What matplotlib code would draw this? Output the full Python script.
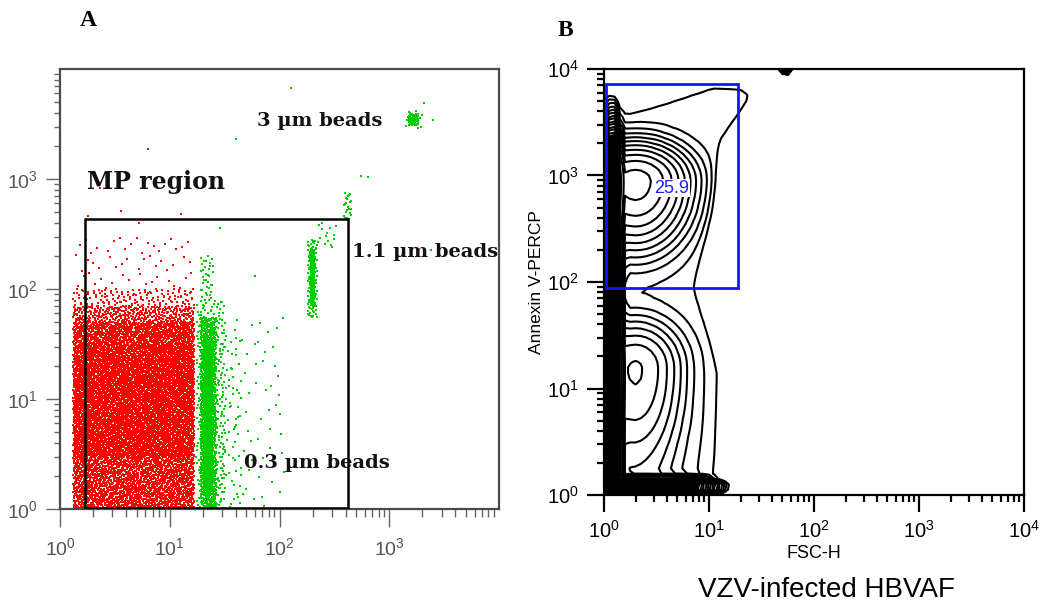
import numpy as np
import matplotlib
matplotlib.use("Agg")
import matplotlib.pyplot as plt
from matplotlib.patches import Rectangle
from matplotlib.ticker import LogLocator, LogFormatterSciNotation, NullFormatter

plt.rcParams['font.family'] = ['Liberation Sans', 'DejaVu Sans']
plt.rcParams['mathtext.fontset'] = 'custom'
plt.rcParams['mathtext.rm'] = 'Liberation Sans'

# ---------------------------------------------------------------
# Panel A data: dot clouds (x range, y range, number of events)
# ---------------------------------------------------------------
red_x = [(1.32, 16.7)] * 6
red_y = [(1.0, 3.0), (3.0, 30.0), (30.0, 50.0), (50.0, 70.0), (70.0, 100.0), (100.0, 300.0)]
red_n = [1900, 5400, 1000, 330, 140, 55]
red_out_x = [6.4, 3.6, 12.7, 2.3, 5.3, 1.8]
red_out_y = [1870, 510, 480, 830, 400, 460]

green_x = [(20.5, 24.5), (19.0, 26.5), (17.5, 32.0), (25.0, 45.0), (19.0, 25.0), (35.0, 110.0),
           (192.0, 208.0), (180.0, 220.0), (220.0, 330.0), (380.0, 450.0),
           (1500.0, 1850.0), (1400.0, 2000.0)]
green_y = [(1.5, 35.0), (1.0, 55.0), (1.0, 80.0), (1.0, 40.0), (80.0, 200.0), (1.0, 60.0),
           (70.0, 230.0), (55.0, 280.0), (230.0, 420.0), (420.0, 750.0),
           (3100.0, 3900.0), (2800.0, 4200.0)]
green_n = [1000, 900, 350, 80, 35, 60, 250, 110, 15, 22, 55, 15]
green_out_x = [126, 40, 550, 640, 2090, 2500, 29, 2400, 60]
green_out_y = [6700, 2300, 1070, 1050, 4900, 3450, 357, 225, 130]

mp_box = (1.7, 1.03, 420, 435)

# ---------------------------------------------------------------
# Panel B data: density in log10 units (u = log FSC-H, v = log Annexin)
# ---------------------------------------------------------------
# outline of the outermost contour (right side and top side)
outer_right_v = [0.0, 0.39, 1.14, 1.95, 3.02, 3.33, 3.76]
outer_right_u = [1.0, 1.03, 1.06, 0.85, 0.98, 1.10, 1.41]
outer_top_u = [0.0, 0.22, 1.04, 1.32, 1.45]
outer_top_v = [3.71, 3.55, 3.82, 3.81, 3.76]

# peaks: upper (Annexin+), lower (Annexin-), small event at the top
blob_u = [0.30, 0.30, 1.73]
blob_v = [2.95, 1.2, 4.0]
blob_su = [0.24, 0.22, 0.025]
blob_sv_top = [0.17, 0.22, 0.025]
blob_sv_bot = [0.30, 0.42, 0.025]
blob_amp = [34.0, 12.5, 6.0]

# pile-ups on the axes and the low band under the lower peak
strip_u = [(0.04, 0.12), (-0.3, 0.80), (-0.3, 0.55)]
strip_v = [(-0.3, 3.25), (0.04, 0.12), (-0.3, 0.9)]
strip_eu = [0.01, 0.05, 0.12]
strip_ev = [0.06, 0.01, 0.15]
strip_amp = [1000.0, 1000.0, 2.5]

gate = (1.04, 88, 19, 7200)
gate_label = "25.9"


def halton(n, base, start):
    i = np.arange(start + 1, start + n + 1)
    r = np.zeros(n)
    f = 1.0
    while (i > 0).any():
        f = f / base
        r = r + f * (i % base)
        i = i // base
    return r


def cloud(xr, yr, ns, start):
    xs, ys = [], []
    for (x0, x1), (y0, y1), n in zip(xr, yr, ns):
        h1 = halton(n, 2, start)
        h2 = halton(n, 3, start)
        start += n
        xs.append(10 ** (np.log10(x0) + h1 * (np.log10(x1) - np.log10(x0))))
        ys.append(10 ** (np.log10(y0) + h2 * (np.log10(y1) - np.log10(y0))))
    return np.concatenate(xs), np.concatenate(ys), start


def sig(t, e):
    return 1 / (1 + np.exp(-t / e))


def sbox(t, lo, hi, e):
    return sig(t - lo, e) * sig(hi - t, e)


def log_axes(ax, labels):
    ax.set_xscale('log')
    ax.set_yscale('log')
    ax.set_xlim(1, 1e4)
    ax.set_ylim(1, 1e4)
    ax.set_xticks(labels)
    ax.set_yticks(labels)
    for a in (ax.xaxis, ax.yaxis):
        a.set_major_formatter(LogFormatterSciNotation())
        a.set_minor_locator(LogLocator(base=10, subs=np.arange(2, 10), numticks=20))
        a.set_minor_formatter(NullFormatter())


fig = plt.figure(figsize=(10.6, 6.05), dpi=100)

# ---------------- Panel A ----------------
axA = fig.add_axes([60 / 1060, 96 / 605, 439 / 1060, 440 / 605])
rx, ry, k = cloud(red_x, red_y, red_n, 0)
gx, gy, k = cloud(green_x, green_y, green_n, k)
dot = dict(s=2.2, marker='s', linewidths=0)
axA.scatter(rx, ry, c='#ff0000', **dot)
axA.scatter(red_out_x, red_out_y, c='#ff0000', **dot)
axA.scatter(gx, gy, c='#00cc00', **dot)
axA.scatter(green_out_x, green_out_y, c='#00cc00', **dot)
axA.add_patch(Rectangle((mp_box[0], mp_box[1]), mp_box[2] - mp_box[0], mp_box[3] - mp_box[1],
                        fill=False, ec='black', lw=1.8, zorder=5))
log_axes(axA, [1, 10, 100, 1000])
for s in axA.spines.values():
    s.set_color('#4a4a4a')
    s.set_linewidth(1.6)
axA.tick_params(which='major', direction='out', length=10, width=1.0, color='#666666',
                labelsize=14, labelcolor='#555555', pad=6)
axA.tick_params(which='minor', direction='out', length=4, width=1.0, color='#666666')
axA.tick_params(axis='x', which='major', length=13, pad=7)
axA.tick_params(axis='x', which='minor', length=6)

txt = dict(family='DejaVu Serif', fontweight='bold', color='#111111', va='center')
axA.text(1.78, 930, "MP region", fontsize=17, **txt)
axA.text(62, 3400, "3 µm beads", fontsize=14, **txt)
axA.text(455, 218, "1.1 µm beads", fontsize=14, **txt)
axA.text(47, 2.6, "0.3 µm beads", fontsize=14, **txt)
fig.text(88 / 1060, 1 - 20 / 605, "A", fontsize=17, fontweight='bold',
         family='Liberation Serif', ha='center', va='center')

# ---------------- Panel B ----------------
axB = fig.add_axes([604 / 1060, 110 / 605, 420 / 1060, 426 / 605])
uu = np.arange(-0.1, 4.06, 0.05)
vv = np.arange(-0.1, 4.06, 0.05)
U, V = np.meshgrid(uu, vv)
# envelope: 0.6 inside the outer outline, so the 0.5 level follows it
right = np.interp(V, outer_right_v, outer_right_u) + 0.08
top = np.interp(U, outer_top_u, outer_top_v) + 0.08
D = 0.6 * sig(right - U, 0.05) * sig(top - V, 0.05)
for cu, cv, su, st, sb, a in zip(blob_u, blob_v, blob_su, blob_sv_top, blob_sv_bot, blob_amp):
    sv = np.where(V > cv, st, sb)
    D += a * np.exp(-0.5 * (((U - cu) / su) ** 2 + ((V - cv) / sv) ** 2))
for (u0, u1), (v0, v1), eu, ev, a in zip(strip_u, strip_v, strip_eu, strip_ev, strip_amp):
    D += a * sbox(U, u0, u1, eu) * sbox(V, v0, v1, ev)
levels = 0.5 * 1.5 ** np.arange(14)
X, Y = 10 ** U, 10 ** V
axB.contourf(X, Y, D, levels=[levels[-1], 1e9], colors='black')
axB.contour(X, Y, D, levels=levels, colors='black', linewidths=1.5)
axB.add_patch(Rectangle((gate[0], gate[1]), gate[2] - gate[0], gate[3] - gate[1],
                        fill=False, ec='#1414ff', lw=2.0, zorder=5))
axB.text(4.4, 760, gate_label, color='#2020ff', fontsize=13, ha='center', va='center',
         bbox=dict(facecolor='white', edgecolor='none', pad=0.5), zorder=6)
log_axes(axB, [1, 10, 100, 1000, 10000])
for s in axB.spines.values():
    s.set_linewidth(1.6)
axB.tick_params(which='major', direction='out', length=12, width=1.6, labelsize=14.5, pad=6)
axB.tick_params(which='minor', direction='out', length=5, width=1.6)
axB.set_xlabel("FSC-H", fontsize=13, labelpad=2)
axB.set_ylabel("Annexin V-PERCP", fontsize=12.5, labelpad=2)
fig.text(826 / 1060, 1 - 590 / 605, "VZV-infected HBVAF", fontsize=20, ha='center', va='center')
fig.text(565 / 1060, 1 - 30 / 605, "B", fontsize=17, fontweight='bold',
         family='Liberation Serif', ha='center', va='center')

fig.savefig("out.png", dpi=100)
